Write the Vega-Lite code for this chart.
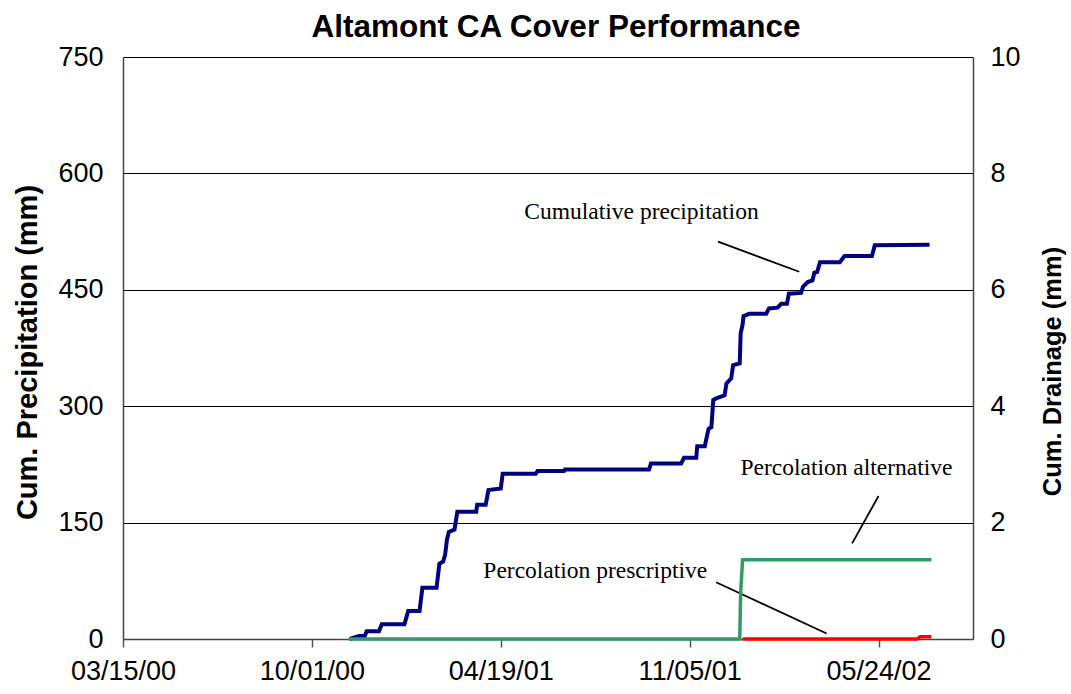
{
  "$schema": "https://vega.github.io/schema/vega-lite/v6.json",
  "width": 850,
  "height": 582,
  "autosize": {"type": "none"},
  "padding": {"left": 123, "top": 57, "right": 98, "bottom": 55},
  "background": "white",
  "title": {
    "text": "Altamont CA Cover Performance",
    "font": "Liberation Sans",
    "fontSize": 31.5,
    "fontWeight": "bold",
    "color": "#000000",
    "anchor": "middle",
    "frame": "group",
    "dx": 8,
    "baseline": "alphabetic",
    "offset": -25
  },
  "config": {
    "view": {"stroke": null},
    "axis": {
      "labelFont": "Liberation Sans",
      "labelFontSize": 27,
      "labelColor": "#000000",
      "titleFont": "Liberation Sans",
      "titleFontSize": 26,
      "titleFontWeight": "bold",
      "titleColor": "#000000"
    }
  },
  "datasets": {
    "precip": [
      {"date": "2000-11-10", "value": 0},
      {"date": "2000-11-20", "value": 4},
      {"date": "2000-11-26", "value": 4},
      {"date": "2000-11-28", "value": 10},
      {"date": "2000-12-11", "value": 10},
      {"date": "2000-12-14", "value": 19},
      {"date": "2001-01-07", "value": 19},
      {"date": "2001-01-11", "value": 36},
      {"date": "2001-01-23", "value": 36},
      {"date": "2001-01-26", "value": 66},
      {"date": "2001-02-10", "value": 66},
      {"date": "2001-02-13", "value": 97},
      {"date": "2001-02-17", "value": 100},
      {"date": "2001-02-19", "value": 108},
      {"date": "2001-02-21", "value": 128},
      {"date": "2001-02-23", "value": 138},
      {"date": "2001-02-27", "value": 140},
      {"date": "2001-03-01", "value": 141},
      {"date": "2001-03-04", "value": 164},
      {"date": "2001-03-24", "value": 164},
      {"date": "2001-03-25", "value": 173},
      {"date": "2001-04-03", "value": 173},
      {"date": "2001-04-06", "value": 192},
      {"date": "2001-04-19", "value": 194},
      {"date": "2001-04-21", "value": 213},
      {"date": "2001-05-26", "value": 213},
      {"date": "2001-05-28", "value": 216.5},
      {"date": "2001-06-25", "value": 216.5},
      {"date": "2001-06-26", "value": 218.5},
      {"date": "2001-09-23", "value": 218.5},
      {"date": "2001-09-25", "value": 226},
      {"date": "2001-10-27", "value": 226},
      {"date": "2001-10-30", "value": 233.5},
      {"date": "2001-11-12", "value": 233.5},
      {"date": "2001-11-13", "value": 248.5},
      {"date": "2001-11-21", "value": 248.5},
      {"date": "2001-11-25", "value": 271},
      {"date": "2001-11-28", "value": 273},
      {"date": "2001-11-30", "value": 308},
      {"date": "2001-12-03", "value": 310},
      {"date": "2001-12-12", "value": 314},
      {"date": "2001-12-14", "value": 329.5},
      {"date": "2001-12-19", "value": 336},
      {"date": "2001-12-21", "value": 353},
      {"date": "2001-12-28", "value": 355},
      {"date": "2001-12-29", "value": 394},
      {"date": "2001-12-31", "value": 405},
      {"date": "2002-01-01", "value": 416},
      {"date": "2002-01-07", "value": 419},
      {"date": "2002-01-25", "value": 419},
      {"date": "2002-01-28", "value": 426},
      {"date": "2002-02-06", "value": 427},
      {"date": "2002-02-10", "value": 432},
      {"date": "2002-02-16", "value": 432},
      {"date": "2002-02-18", "value": 445},
      {"date": "2002-03-03", "value": 446},
      {"date": "2002-03-05", "value": 454},
      {"date": "2002-03-10", "value": 460},
      {"date": "2002-03-15", "value": 462},
      {"date": "2002-03-17", "value": 472},
      {"date": "2002-03-20", "value": 473},
      {"date": "2002-03-23", "value": 485.5},
      {"date": "2002-04-13", "value": 485.5},
      {"date": "2002-04-18", "value": 493.5},
      {"date": "2002-05-17", "value": 493.5},
      {"date": "2002-05-20", "value": 507.5},
      {"date": "2002-07-17", "value": 508}
    ],
    "drain": [
      {"series": "alternative", "date": "2000-11-09", "value": 0},
      {"series": "alternative", "date": "2001-12-28", "value": 0},
      {"series": "alternative", "date": "2001-12-29", "value": 0.8},
      {"series": "alternative", "date": "2001-12-31", "value": 1.36},
      {"series": "alternative", "date": "2002-07-19", "value": 1.36},
      {"series": "prescriptive", "date": "2001-12-31", "value": 0},
      {"series": "prescriptive", "date": "2002-07-04", "value": 0},
      {"series": "prescriptive", "date": "2002-07-07", "value": 0.04},
      {"series": "prescriptive", "date": "2002-07-19", "value": 0.04}
    ],
    "notes": [
      {"label": "Cumulative precipitation", "date": "2001-09-15", "value": 541},
      {"label": "Percolation alternative", "date": "2002-04-20", "value": 211},
      {"label": "Percolation prescriptive", "date": "2001-07-28", "value": 78}
    ],
    "callouts": [
      {"date": "2001-12-05", "value": 512, "date2": "2002-03-01", "value2": 473.3},
      {"date": "2002-05-24", "value": 184.3, "date2": "2002-04-26", "value2": 123.3},
      {"date": "2001-12-03", "value": 73.1, "date2": "2002-03-30", "value2": 7.1}
    ]
  },
  "layer": [
    {
      "layer": [
        {
          "data": {"name": "precip"},
          "mark": {"type": "line", "color": "#000080", "strokeWidth": 4},
          "encoding": {
            "x": {
              "field": "date",
              "type": "temporal",
              "scale": {
                "type": "utc",
                "domain": [
                  {"year": 2000, "month": 3, "date": 15, "utc": true},
                  {"year": 2002, "month": 9, "date": 1, "utc": true}
                ]
              },
              "axis": {
                "title": null,
                "grid": false,
                "values": [
                  {"year": 2000, "month": 3, "date": 15, "utc": true},
                  {"year": 2000, "month": 10, "date": 1, "utc": true},
                  {"year": 2001, "month": 4, "date": 19, "utc": true},
                  {"year": 2001, "month": 11, "date": 5, "utc": true},
                  {"year": 2002, "month": 5, "date": 24, "utc": true}
                ],
                "labelExpr": "utcFormat(datum.value, '%m/%d/%y')",
                "domainColor": "#444444",
                "domainWidth": 1.5,
                "tickColor": "#555555",
                "tickWidth": 1.5,
                "tickSize": 8,
                "labelPadding": 11,
                "labelFlush": false,
                "labelOverlap": false
              }
            },
            "y": {
              "field": "value",
              "type": "quantitative",
              "scale": {"domain": [0, 750], "nice": false},
              "axis": {
                "title": "Cum. Precipitation (mm)",
                "orient": "left",
                "values": [0, 150, 300, 450, 600, 750],
                "grid": true,
                "gridColor": "#000000",
                "gridWidth": 1,
                "ticks": false,
                "labelPadding": 20,
                "domainColor": "#444444",
                "domainWidth": 1.5,
                "titleFontSize": 29,
                "titleAngle": 270,
                "titleX": -96,
                "titleY": 295,
                "titleAlign": "center",
                "titleBaseline": "middle"
              }
            }
          }
        },
        {
          "data": {"name": "callouts"},
          "mark": {"type": "rule", "color": "#000000", "strokeWidth": 1.8},
          "encoding": {
            "x": {"field": "date", "type": "temporal"},
            "x2": {"field": "date2"},
            "y": {"field": "value", "type": "quantitative"},
            "y2": {"field": "value2"}
          }
        },
        {
          "data": {"name": "notes"},
          "mark": {
            "type": "text",
            "font": "Liberation Serif",
            "fontSize": 23.5,
            "align": "center",
            "baseline": "alphabetic",
            "color": "#000000"
          },
          "encoding": {
            "x": {"field": "date", "type": "temporal"},
            "y": {"field": "value", "type": "quantitative"},
            "text": {"field": "label"}
          }
        }
      ]
    },
    {
      "data": {"name": "drain"},
      "mark": {"type": "line", "strokeWidth": 3.5},
      "encoding": {
        "x": {"field": "date", "type": "temporal"},
        "y": {
          "field": "value",
          "type": "quantitative",
          "scale": {"domain": [0, 10], "nice": false},
          "axis": {
            "title": "Cum. Drainage (mm)",
            "orient": "right",
            "values": [0, 2, 4, 6, 8, 10],
            "grid": false,
            "ticks": false,
            "labelPadding": 17,
            "domainColor": "#444444",
            "domainWidth": 1.5,
            "titleFontSize": 25.5,
            "titleAngle": 270,
            "titleX": 79,
            "titleY": 314,
            "titleAlign": "center",
            "titleBaseline": "middle"
          }
        },
        "color": {
          "field": "series",
          "type": "nominal",
          "scale": {"domain": ["alternative", "prescriptive"], "range": ["#339966", "#FF0000"]},
          "legend": null
        }
      }
    }
  ],
  "resolve": {"scale": {"y": "independent"}}
}
